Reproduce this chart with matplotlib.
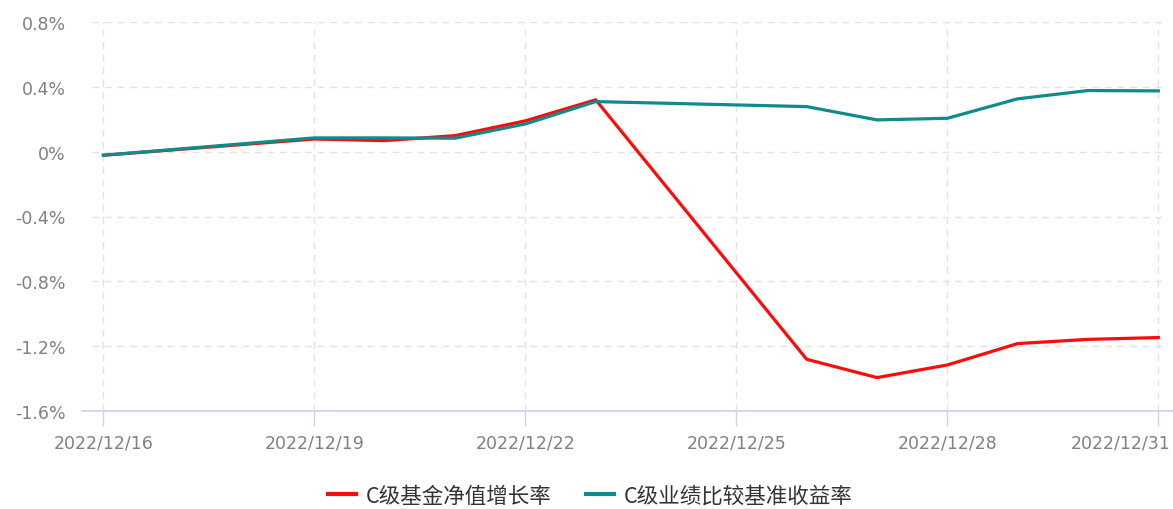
import matplotlib
matplotlib.use("Agg")
import matplotlib.pyplot as plt
import matplotlib.transforms as mtransforms
from matplotlib.lines import Line2D
import pandas as pd

plt.rcParams['font.family'] = ['Noto Sans CJK SC', 'DejaVu Sans']

dates = ["2022-12-16", "2022-12-19", "2022-12-20", "2022-12-21", "2022-12-22",
         "2022-12-23", "2022-12-26", "2022-12-27", "2022-12-28", "2022-12-29",
         "2022-12-30", "2022-12-31"]
fund_c = [-0.022, 0.078, 0.068, 0.099, 0.19, 0.32, -1.281, -1.394, -1.316,
          -1.184, -1.158, -1.147]
bench_c = [-0.022, 0.085, 0.085, 0.083, 0.171, 0.309, 0.278, 0.196, 0.206,
           0.326, 0.377, 0.375]
series_names = ["C级基金净值增长率", "C级业绩比较基准收益率"]
yticks = [-1.6, -1.2, -0.8, -0.4, 0.0, 0.4, 0.8]
ytick_labels = ["-1.6%", "-1.2%", "-0.8%", "-0.4%", "0%", "0.4%", "0.8%"]
xtick_dates = ["2022-12-16", "2022-12-19", "2022-12-22", "2022-12-25",
               "2022-12-28", "2022-12-31"]

x = pd.to_datetime(dates)
xt = pd.to_datetime(xtick_dates)

W, H = 1173, 510
fig = plt.figure(figsize=(W / 100, H / 100), dpi=100)
ax = fig.add_axes([92 / W, 1 - 412 / H, (1163 - 92) / W, (412 - 23) / H])

red = "#ff0a0a"
teal = "#108a8a"
ax.plot(x, fund_c, color=red, lw=2.3, label=series_names[0], zorder=3,
        solid_joinstyle="round")
ax.plot(x, bench_c, color=teal, lw=2.3, label=series_names[1], zorder=4,
        solid_joinstyle="round")

x0 = pd.Timestamp("2022-12-16")
ax.set_xlim(x0 - pd.Timedelta(hours=3.9), pd.Timestamp("2022-12-31") + pd.Timedelta(hours=1.6))
ax.set_ylim(-1.6, 0.8)

ax.set_yticks(yticks)
ax.set_yticklabels(ytick_labels, family=['DejaVu Sans'])
ax.set_xticks(xt)
ax.set_xticklabels([d.strftime("%Y/%m/%d") for d in xt], family=['DejaVu Sans'])

ax.tick_params(axis='y', length=0, pad=19, labelsize=12.5, labelcolor="#808080")
ax.tick_params(axis='x', length=11, width=1, color="#c9d3ec", pad=5,
               labelsize=12.5, labelcolor="#808080", direction='out')

last = ax.get_xticklabels()[-1]
last.set_horizontalalignment('right')
last.set_transform(last.get_transform() +
                   mtransforms.ScaledTranslation(12 / 100, 0, fig.dpi_scale_trans))

ax.grid(True, color="#e2e2e2", linestyle=(0, (5, 4)), linewidth=1)
for s in ax.spines.values():
    s.set_visible(False)

fig.add_artist(Line2D([82 / W, 1.0], [1 - 412 / H, 1 - 412 / H],
                      transform=fig.transFigure, color="#c9d3ec", lw=1.2))

leg = fig.legend(loc="center", bbox_to_anchor=(590 / W, 1 - 497 / H), ncol=2,
                 frameon=False, fontsize=15.5, handlelength=1.3,
                 handletextpad=0.45, columnspacing=1.6)
for t in leg.get_texts():
    t.set_color("#333333")
for l in leg.get_lines():
    l.set_linewidth(3)

fig.savefig("out.png", dpi=100)
